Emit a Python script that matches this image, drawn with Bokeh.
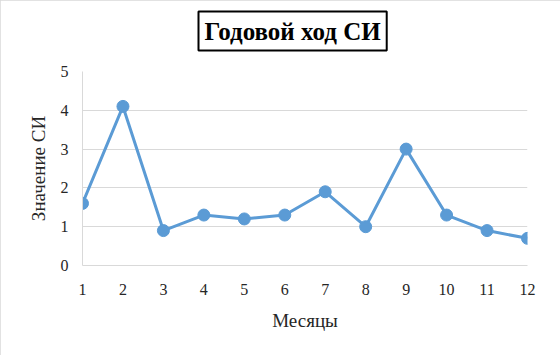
from bokeh.plotting import figure
from bokeh.models import Title, FixedTicker, Range1d
from bokeh.embed import file_html
from bokeh.resources import INLINE

months = [1, 2, 3, 4, 5, 6, 7, 8, 9, 10, 11, 12]
values = [1.6, 4.1, 0.9, 1.3, 1.2, 1.3, 1.9, 1.0, 3.0, 1.3, 0.9, 0.7]
y_ticks = [0, 1, 2, 3, 4, 5]
title_text = "Годовой ход СИ"
x_label = "Месяцы"
y_label = "Значение СИ"

FONT = "'Liberation Serif', 'Times New Roman', serif"
TXT = "#262626"
GRID = "#d9d9d9"
BLUE = "#5b9bd5"

p = figure(width=560, height=355, output_backend="svg", toolbar_location=None,
           x_range=Range1d(1, 12), y_range=Range1d(0, 5),
           min_border_left=82, min_border_right=33, min_border_top=71, min_border_bottom=90)
p.outline_line_color = None
p.background_fill_color = "white"
p.border_fill_color = "white"
p.styles = {"outline": "2px solid #d9d9d9", "outline-offset": "-2px"}

p.line(months, values, line_color=BLUE, line_width=3)
p.scatter(months, values, size=12, fill_color=BLUE, line_color=BLUE)

p.xaxis.ticker = FixedTicker(ticks=months)
p.yaxis.ticker = FixedTicker(ticks=y_ticks)
for ax in (p.xaxis, p.yaxis):
    ax.major_tick_line_color = None
    ax.minor_tick_line_color = None
    ax.axis_line_color = GRID
    ax.axis_line_width = 1
    ax.major_label_text_font = FONT
    ax.major_label_text_font_size = "16px"
    ax.major_label_text_color = TXT
    ax.axis_label_text_font = FONT
    ax.axis_label_text_font_size = "19px"
    ax.axis_label_text_font_style = "normal"
    ax.axis_label_text_color = TXT
p.xaxis.axis_label = x_label
p.yaxis.axis_label = y_label
p.xaxis.major_label_standoff = 12
p.yaxis.major_label_standoff = 8
p.xaxis.axis_label_standoff = 12
p.yaxis.axis_label_standoff = 9

p.xgrid.grid_line_color = None
p.ygrid.grid_line_color = GRID
p.ygrid.ticker = FixedTicker(ticks=y_ticks)

spacer = Title(text=" ", text_font_size="12px", standoff=0)
p.add_layout(spacer, "above")
t = Title(text=title_text, align="left", offset=116,
          text_font=FONT, text_font_size="25px", text_font_style="bold",
          text_color="black", border_line_color="black", border_line_width=2,
          background_fill_color="white", padding=6)
p.add_layout(t, "above")

open("out.html", "w").write(file_html(p, INLINE))
